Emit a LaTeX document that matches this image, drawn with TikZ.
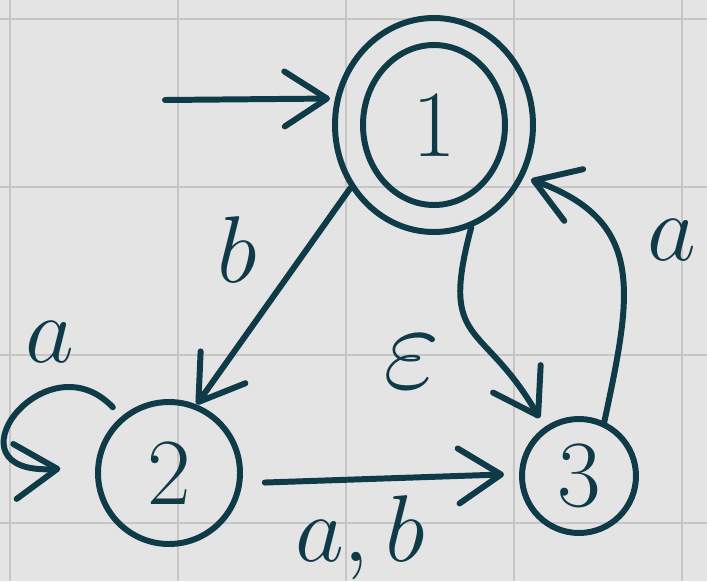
\RequirePackage{fix-cm}
\documentclass[tikz,border=0pt]{standalone}
\usetikzlibrary{arrows.meta,shapes.geometric}
\definecolor{ink}{HTML}{0F3B48}
\definecolor{paper}{HTML}{E4E4E4}
\definecolor{rule}{HTML}{C6C6C6}
\tikzset{
  state/.style={draw=ink, line width=3.4pt, circle, inner sep=0pt, text=ink, font=\fontsize{54}{60}\selectfont},
  edge/.style={draw=ink, line width=3.4pt, line cap=round, -{Straight Barb[length=0.85cm,width=1.1cm,round]}},
  lbl/.style={text=ink, font=\fontsize{54}{60}\selectfont},
  gridline/.style={draw=rule, line width=0.9pt}
}
\begin{document}
\begin{tikzpicture}
        \useasboundingbox (0, 0) rectangle (14.14, 11.62); % bounding box fix
        \fill[paper] (0, 0) rectangle (14.14, 11.62);
        \foreach \x in {0.2, 3.56, 6.92, 10.28, 13.64}
            \draw[gridline] (\x, 0) -- (\x, 11.62);
        \foreach \y in {1.16, 4.52, 7.88, 11.24}
            \draw[gridline] (0, \y) -- (14.14, \y);

        \node[state, ellipse, minimum width=3.96cm, minimum height=4.28cm] (s1) at (8.68, 9.12) {1};
        \draw[ink, line width=3.4pt] (s1.center) ellipse [x radius=1.42cm, y radius=1.6cm];
        \node[state, minimum size=2.84cm] (s2) at (3.38, 2.16) {2};
        \node[state, minimum size=2.28cm] (s3) at (11.58, 2.10) {3};
        \coordinate (start) at (3.30, 9.62);

        \draw[edge, shorten >=0.1cm] (start) -- (s1.165);
        \draw[edge] (s1.217) -- (s2.68);
        \draw[edge, shorten <=0.25cm, shorten >=0.7cm] (s2.130) .. controls (0.9, 4.9) and (-1.2, 2.1) .. (s2.175);
        \draw[edge, shorten <=0.45cm, shorten >=0.3cm] (s2.-8) -- (s3.178);
        \draw[edge, shorten >=0.2cm] (s1.-70) to[out=-105, in=120, looseness=1.5] (s3.125);
        \draw[edge, shorten >=0.15cm] (s3.65) to[out=78, in=-20, looseness=1.3] (s1.-30);

        \node[lbl] (lb) at (4.74, 6.62) {$b$};
        \node[lbl] (la) at (1.0, 4.78) {$a$};
        \node[lbl] (lab) at (7.2, 0.86) {$a, b$};
        \node[lbl, scale=1.3] (leps) at (8.24, 4.38) {$\varepsilon$};
        \node[lbl] (la3) at (13.44, 6.82) {$a$};
    \end{tikzpicture}
\end{document}
